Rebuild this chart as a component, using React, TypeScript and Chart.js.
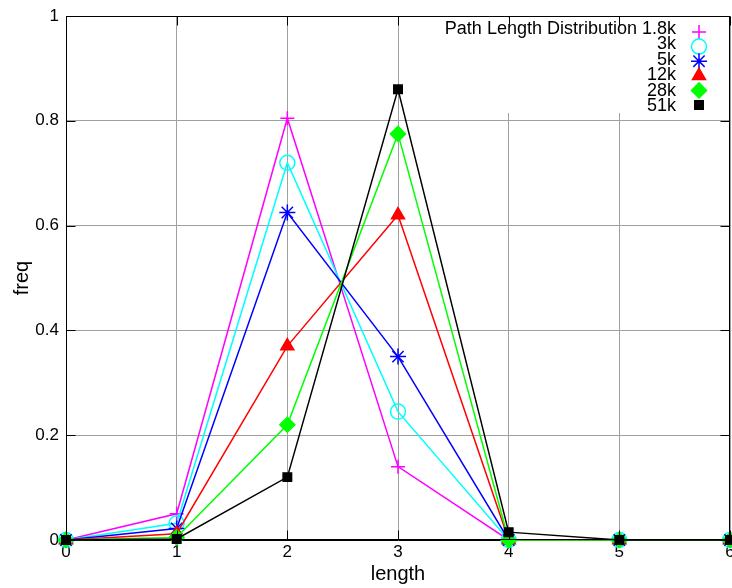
import React, { useEffect, useRef } from 'react';
import { Chart, registerables } from 'chart.js';

Chart.register(...registerables);

// ---- data ----
const lengths = [0, 1, 2, 3, 4, 5, 6];
const seriesLabels = ['Path Length Distribution 1.8k', '3k', '5k', '12k', '28k', '51k'];
const freq1_8k = [0, 0.05, 0.805, 0.14, 0, 0, 0];
const freq3k = [0, 0.032, 0.72, 0.245, 0, 0, 0];
const freq5k = [0, 0.022, 0.625, 0.35, 0, 0, 0];
const freq12k = [0, 0.012, 0.37, 0.62, 0, 0, 0];
const freq28k = [0, 0.005, 0.22, 0.775, 0, 0, 0];
const freq51k = [0, 0.002, 0.12, 0.86, 0.015, 0, 0];
const xTickValues = [0, 1, 2, 3, 4, 5, 6];
const yTickValues = [0, 0.2, 0.4, 0.6, 0.8, 1];
const yTickLabels = ['0', '0.2', '0.4', '0.6', '0.8', '1'];
const xTitle = 'length';
const yTitle = 'freq';

// ---- styles ----
const seriesValues = [freq1_8k, freq3k, freq5k, freq12k, freq28k, freq51k];
const colors = ['#ff00ff', '#00ffff', '#0000ff', '#ff0000', '#00ff00', '#000000'];
const pointStyles = ['cross', 'circle', 'star', 'triangle', 'rectRot', 'rect'];
const pointRadii = [7, 7.5, 8, 7.5, 7.5, 6];
const filled = [false, false, false, true, true, true];
const FONT = '"Liberation Sans", Arial, sans-serif';

function drawSymbol(ctx: CanvasRenderingContext2D, style: string, x: number, y: number, r: number, color: string, fill: boolean) {
  ctx.save();
  ctx.strokeStyle = color;
  ctx.fillStyle = color;
  ctx.lineWidth = 1.5;
  ctx.beginPath();
  const d = r * Math.SQRT1_2;
  switch (style) {
    case 'cross':
      ctx.moveTo(x - r, y); ctx.lineTo(x + r, y);
      ctx.moveTo(x, y - r); ctx.lineTo(x, y + r);
      break;
    case 'circle':
      ctx.arc(x, y, r, 0, Math.PI * 2);
      break;
    case 'star':
      ctx.moveTo(x - r, y); ctx.lineTo(x + r, y);
      ctx.moveTo(x, y - r); ctx.lineTo(x, y + r);
      ctx.moveTo(x - d, y - d); ctx.lineTo(x + d, y + d);
      ctx.moveTo(x - d, y + d); ctx.lineTo(x + d, y - d);
      break;
    case 'triangle': {
      let a = 0;
      ctx.moveTo(x + Math.sin(a) * r, y - Math.cos(a) * r);
      a += (2 * Math.PI) / 3;
      ctx.lineTo(x + Math.sin(a) * r, y - Math.cos(a) * r);
      a += (2 * Math.PI) / 3;
      ctx.lineTo(x + Math.sin(a) * r, y - Math.cos(a) * r);
      ctx.closePath();
      break;
    }
    case 'rectRot':
      ctx.moveTo(x, y - r); ctx.lineTo(x + r, y); ctx.lineTo(x, y + r); ctx.lineTo(x - r, y);
      ctx.closePath();
      break;
    case 'rect':
      ctx.rect(x - d, y - d, 2 * d, 2 * d);
      break;
  }
  if (fill) ctx.fill();
  ctx.stroke();
  ctx.restore();
}

const framePlugin = {
  id: 'gnuplotFrame',
  afterDatasetsDraw(chart: any) {
    const ctx: CanvasRenderingContext2D = chart.ctx;
    const area = chart.chartArea;
    const xs = chart.scales.x;
    const ys = chart.scales.y;
    const L = Math.round(area.left) + 0.5;
    const R = Math.round(area.right) - 0.5;
    const T = Math.round(area.top) + 0.5;
    const B = Math.round(area.bottom) - 0.5;

    // opaque key box
    ctx.save();
    ctx.fillStyle = '#ffffff';
    ctx.fillRect(440, T + 1, R - 440 - 1, 112 - T);
    // key text + symbols
    ctx.font = `18px ${FONT}`;
    ctx.fillStyle = '#000000';
    ctx.textAlign = 'right';
    ctx.textBaseline = 'middle';
    seriesLabels.forEach((lab, i) => {
      ctx.fillText(lab, 676, 29 + i * 15.5);
      drawSymbol(ctx, pointStyles[i], 699, 32 + i * 14.6, pointRadii[i], colors[i], filled[i]);
    });

    // border
    ctx.strokeStyle = '#000000';
    ctx.lineWidth = 1;
    ctx.strokeRect(L, T, R - L, B - T);

    // inward tick marks (mirrored)
    const tl = 9;
    ctx.beginPath();
    xTickValues.forEach((v) => {
      const px = Math.round(xs.getPixelForValue(v)) + 0.5;
      ctx.moveTo(px, B); ctx.lineTo(px, B - tl);
      ctx.moveTo(px, T); ctx.lineTo(px, T + tl);
    });
    yTickValues.forEach((v) => {
      const py = Math.round(ys.getPixelForValue(v)) + 0.5;
      ctx.moveTo(L, py); ctx.lineTo(L + tl, py);
      ctx.moveTo(R, py); ctx.lineTo(R - tl, py);
    });
    ctx.stroke();
    ctx.restore();
  },
};

export default function App() {
  const canvasRef = useRef<HTMLCanvasElement | null>(null);

  useEffect(() => {
    const canvas = canvasRef.current;
    if (!canvas) return;
    const datasets = seriesValues.map((vals, i) => ({
      label: seriesLabels[i],
      data: lengths.map((x, j) => ({ x, y: vals[j] })),
      borderColor: colors[i],
      backgroundColor: colors[i],
      pointBackgroundColor: filled[i] ? colors[i] : 'rgba(0,0,0,0)',
      pointBorderColor: colors[i],
      pointStyle: pointStyles[i],
      pointRadius: pointRadii[i],
      pointBorderWidth: 1.5,
      borderWidth: 1.5,
      tension: 0,
      fill: false,
      clip: false as any,
      order: seriesValues.length - 1 - i,
    }));

    const tickFont = { family: FONT, size: 17 };
    const titleFont = { family: FONT, size: 20 };

    const chart = new Chart(canvas, {
      type: 'line',
      data: { datasets },
      plugins: [framePlugin],
      options: {
        animation: false,
        responsive: false,
        devicePixelRatio: 1,
        layout: { padding: { left: 0, top: 16, right: 10, bottom: 0 } },
        plugins: { legend: { display: false }, tooltip: { enabled: false } },
        scales: {
          x: {
            type: 'linear',
            min: 0,
            max: 6,
            afterBuildTicks: (s: any) => { s.ticks = xTickValues.map((v) => ({ value: v })); },
            afterFit: (s: any) => { s.height = 48; s.paddingLeft = 0; s.paddingRight = 0; },
            ticks: { font: tickFont, color: '#000', padding: 2, maxRotation: 0, autoSkip: false },
            grid: { color: '#a0a0a0', lineWidth: 1, drawTicks: false },
            border: { display: true, color: '#000' },
            title: { display: true, text: xTitle, font: titleFont, color: '#000', padding: { top: 0, bottom: 2 } },
          },
          y: {
            type: 'linear',
            min: 0,
            max: 1,
            afterBuildTicks: (s: any) => { s.ticks = yTickValues.map((v) => ({ value: v })); },
            afterFit: (s: any) => { s.width = 66; s.paddingTop = 0; s.paddingBottom = 0; },
            ticks: {
              font: tickFont,
              color: '#000',
              padding: 7,
              callback: (v: any) => {
                const k = yTickValues.findIndex((t) => Math.abs(t - Number(v)) < 1e-9);
                return k >= 0 ? yTickLabels[k] : '';
              },
            },
            grid: { color: '#a0a0a0', lineWidth: 1, drawTicks: false },
            border: { display: true, color: '#000' },
            title: { display: true, text: yTitle, font: titleFont, color: '#000', padding: { top: 10, bottom: 0 } },
          },
        },
      } as any,
    });
    return () => chart.destroy();
  }, []);

  return (
    <div style={{ position: 'fixed', left: 0, top: 0, width: 732, height: 588, overflow: 'hidden', background: '#fff' }}>
      <canvas ref={canvasRef} width={740} height={588} style={{ display: 'block', width: 740, height: 588 }} />
    </div>
  );
}
